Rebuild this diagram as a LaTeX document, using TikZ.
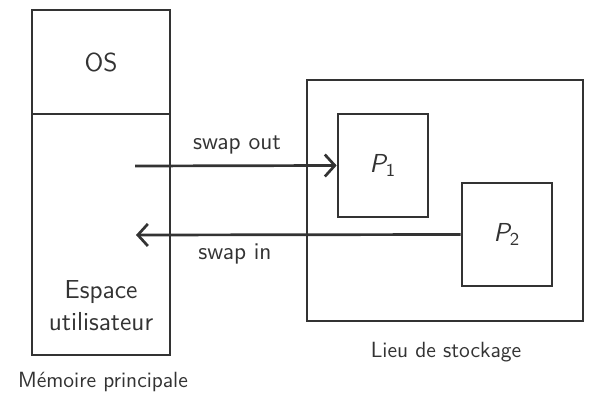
\documentclass[tikz,border=0pt]{standalone}
\usepackage{amsmath}
\usetikzlibrary{arrows.meta}
\definecolor{ink}{HTML}{333333}
\newcommand{\proc}[3]{%
 \node[box,minimum width=45pt,minimum height=51.5pt] ({#1}) at ({#2}) {\fontsize{13}{15}\selectfont$\textit{P}_{\textsf{#3}}$};%
}
\begin{document}
\begin{tikzpicture}[x=0.5pt,y=-0.5pt,
  every node/.style={font=\sffamily\fontsize{12}{14}\selectfont,text=ink},
  small/.style={font=\sffamily\fontsize{11}{13}\selectfont},
  box/.style={draw=ink,line width=1.35pt,inner sep=0pt},
  flow/.style={draw=ink,line width=1.35pt,-{Straight Barb[length=5pt,width=11pt,line width=1.35pt]}}]
  \useasboundingbox (0,0) rectangle (603,415);
  % memoire principale
  \node[box,minimum width=69pt,minimum height=52pt,font=\sffamily\fontsize{13}{16}\selectfont] (osbox) at (101,62) {OS};
  \node[box,minimum width=69pt,minimum height=120.5pt] (userbox) at (101,234.5) {};
  \node[align=center,font=\sffamily\fontsize{13}{16}\selectfont] (user) at (101,306) {Espace\\utilisateur};
  \node[small] (mem) at (103,382) {M\'emoire principale};
  % lieu de stockage
  \node[box,minimum width=138pt,minimum height=120.5pt] (store) at (445,200.5) {};
  \node[small] (storelbl) at (446,352) {Lieu de stockage};
  \proc{p1}{383,165.5}{1}
  \proc{p2}{507,234.5}{2}
  % swap
  \coordinate (sout) at (135,166);
  \coordinate (sin) at (136,235);
  \draw[flow] (sout) -- (p1.west);
  \draw[flow] (p2.west) -- (sin);
  \node (outlbl) at (237,145) {swap out};
  \node (inlbl) at (235,254) {swap in};
\end{tikzpicture}
\end{document}
